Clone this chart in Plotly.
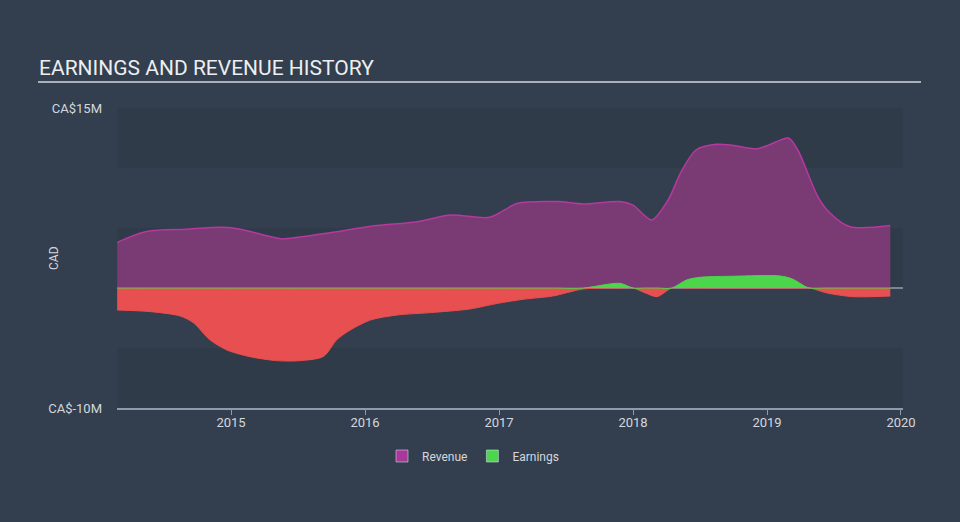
import plotly.graph_objects as go
import numpy as np

# ---- data (CA$ millions, decimal years) ----
rev_x = [2014.15, 2014.37, 2014.66, 2014.94, 2015.07, 2015.37, 2015.44, 2015.74, 2016.06,
         2016.39, 2016.64, 2016.93, 2017.14, 2017.44, 2017.63, 2017.90, 2018.00, 2018.14,
         2018.26, 2018.36, 2018.47, 2018.62, 2018.74, 2018.92, 2019.01, 2019.16, 2019.23,
         2019.38, 2019.47, 2019.62, 2019.92]
rev_y = [3.8, 4.7, 4.9, 5.06, 4.9, 4.1, 4.14, 4.6, 5.17,
         5.53, 6.08, 5.89, 7.06, 7.2, 7.0, 7.2, 6.9, 5.67,
         7.3, 9.7, 11.5, 11.97, 11.9, 11.6, 11.9, 12.5, 11.5,
         7.6, 6.25, 5.1, 5.2]

earn_x = [2014.15, 2014.40, 2014.62, 2014.72, 2014.84, 2014.97, 2015.14, 2015.34, 2015.50,
          2015.69, 2015.79, 2015.89, 2016.04, 2016.24, 2016.49, 2016.78, 2016.99, 2017.18,
          2017.40, 2017.63, 2017.90, 2018.00, 2018.09, 2018.18, 2018.29, 2018.40, 2018.50,
          2018.75, 2019.10, 2019.19, 2019.29, 2019.32, 2019.45, 2019.64, 2019.92]
earn_y = [-1.83, -1.97, -2.33, -2.9, -4.3, -5.17, -5.72, -6.05, -6.06,
          -5.7, -4.3, -3.5, -2.67, -2.25, -2.05, -1.75, -1.28, -0.94,
          -0.67, -0.08, 0.39, 0.0, -0.4, -0.72, 0.0, 0.67, 0.89,
          0.98, 1.0, 0.75, 0.1, 0.0, -0.42, -0.72, -0.67]

year_ticks = [2015, 2016, 2017, 2018, 2019, 2020]
y_ticks = [-10, 15]
y_tick_text = ["CA$-10M", "CA$15M"]

BG = "#333f4e"
BAND = "#303b49"
TXT = "#d4d8dc"
REV_FILL = "#7a3a74"
REV_LINE = "#b5399e"
GREEN = "#4cd64c"
RED = "#e84f50"

earn_arr = np.array(earn_y)
earn_pos = np.maximum(earn_arr, 0)
earn_neg = np.minimum(earn_arr, 0)

fig = go.Figure()

fig.add_trace(go.Scatter(x=rev_x, y=rev_y, mode="lines", fill="tozeroy",
                         fillcolor=REV_FILL, line=dict(color=REV_LINE, width=1.5, shape="spline", smoothing=0.8),
                         showlegend=False, hoverinfo="skip"))
fig.add_trace(go.Scatter(x=earn_x, y=earn_neg, mode="lines", fill="tozeroy",
                         fillcolor=RED, line=dict(color=RED, width=1, shape="spline", smoothing=0.8),
                         showlegend=False, hoverinfo="skip"))
fig.add_trace(go.Scatter(x=earn_x, y=earn_pos, mode="lines", fill="tozeroy",
                         fillcolor=GREEN, line=dict(color=GREEN, width=1, shape="spline", smoothing=0.8),
                         showlegend=False, hoverinfo="skip"))

# legend entries
fig.add_trace(go.Bar(x=[None], y=[None], name="Revenue", marker=dict(color="#a8399a")))
fig.add_trace(go.Bar(x=[None], y=[None], name="Earnings", marker=dict(color=GREEN)))

shapes = []
for y0, y1 in [(10, 15), (0, 5), (-10, -5)]:
    shapes.append(dict(type="rect", xref="paper", yref="y", x0=0, x1=1, y0=y0, y1=y1,
                       fillcolor=BAND, line=dict(width=0), layer="below"))
# zero line
shapes.append(dict(type="line", xref="paper", yref="y", x0=0, x1=1, y0=0, y1=0,
                   line=dict(color="#c8ccd0", width=1), layer="below"))
# title underline
L, R, T, B = 117, 57, 108, 114
pw, ph = 960 - L - R, 522 - T - B
shapes.append(dict(type="line", xref="paper", yref="paper",
                   x0=(38 - L) / pw, x1=(921 - L) / pw,
                   y0=(522 - B - 82) / ph, y1=(522 - B - 82) / ph,
                   line=dict(color="#a9b0b8", width=2)))

fig.update_layout(
    width=960, height=522,
    paper_bgcolor=BG, plot_bgcolor=BG,
    margin=dict(l=L, r=R, t=T, b=B),
    font=dict(family="Roboto, sans-serif", color=TXT, size=12),
    shapes=shapes,
    showlegend=True,
    legend=dict(orientation="h", x=(473 - L) / pw, xanchor="center",
                y=(522 - B - 456) / ph, yanchor="middle", itemwidth=30,
                font=dict(size=12, color=TXT), bgcolor="rgba(0,0,0,0)"),
    annotations=[
        dict(text="EARNINGS AND REVENUE HISTORY", xref="paper", yref="paper",
             x=(37 - L) / pw, y=(522 - B - 68) / ph, xanchor="left", yanchor="middle",
             showarrow=False, font=dict(size=21, color="#eceef0")),
        dict(text="CAD", xref="paper", yref="paper", x=(54 - L) / pw, y=0.5,
             textangle=-90, showarrow=False, xanchor="center", yanchor="middle",
             font=dict(size=12, color=TXT)),
    ],
    xaxis=dict(range=[2014.149, 2020.015], tickvals=year_ticks,
               ticktext=[str(t) for t in year_ticks], showgrid=False, zeroline=False,
               showline=True, linecolor="#8e9bab", linewidth=1.5,
               ticks="outside", ticklen=5, tickcolor="#8e9bab", tickwidth=1,
               ticklabelstandoff=-3,
               tickfont=dict(size=13, color=TXT)),
    yaxis=dict(range=[-10, 15], tickvals=y_ticks, ticktext=y_tick_text,
               showgrid=False, zeroline=False, showline=False,
               ticks="", ticklabelstandoff=14, tickfont=dict(size=13, color=TXT)),
    barmode="overlay",
)

fig.write_html("out.html", config={"displayModeBar": False},
               post_script="document.body.style.margin='0';document.body.style.background='%s';" % BG)
